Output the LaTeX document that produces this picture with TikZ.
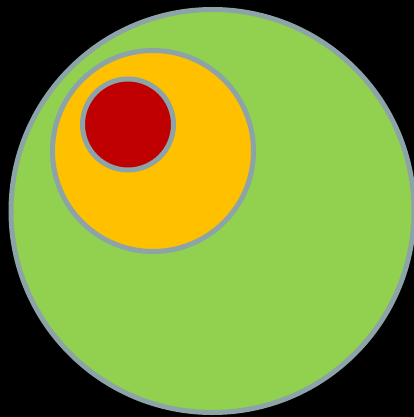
\documentclass[tikz,border=0pt]{standalone}
\definecolor{rimgray}{RGB}{140,163,168}
\definecolor{bigfill}{RGB}{146,208,80}
\definecolor{midfill}{RGB}{255,192,0}
\definecolor{smallfill}{RGB}{192,0,0}
\tikzset{ring/.style={draw=rimgray, line width=5pt}}
\begin{document}
\begin{tikzpicture}[x=1pt,y=-1pt]
\fill[black] (0,0) rectangle (414,417);
\useasboundingbox (0,0) rectangle (414,417);
\node[ring, circle, fill=bigfill, minimum size=403pt, inner sep=0pt, outer sep=0pt] (big) at (212.5,211) {};
\node[ring, circle, fill=midfill, minimum size=201pt, inner sep=0pt, outer sep=0pt] (mid) at (153,151) {};
\node[ring, circle, fill=smallfill, minimum size=91pt, inner sep=0pt, outer sep=0pt] (small) at (128,124.5) {};
\end{tikzpicture}
\end{document}
